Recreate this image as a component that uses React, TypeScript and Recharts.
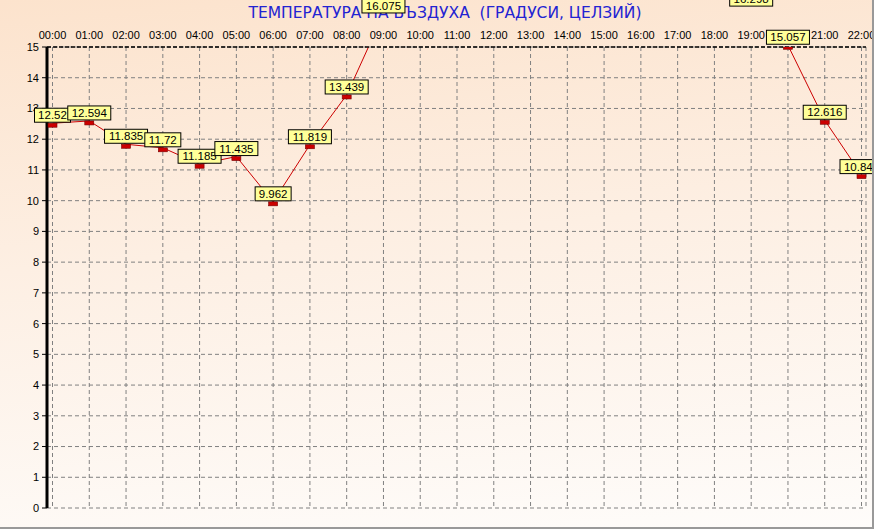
import { CartesianGrid, LabelList, Line, LineChart, XAxis, YAxis } from 'recharts'

const hours = [
  '00:00', '01:00', '02:00', '03:00', '04:00', '05:00', '06:00', '07:00',
  '08:00', '09:00', '10:00', '11:00', '12:00', '13:00', '14:00', '15:00',
  '16:00', '17:00', '18:00', '19:00', '20:00', '21:00', '22:00',
]

// daytime readings are off the top of the scale and not readable
const temps: (number | null)[] = [
  12.52, 12.594, 11.835, 11.72, 11.185, 11.435, 9.962, 11.819, 13.439, 16.075,
  null, null, null, null, null, null, null, null, null,
  16.298, 15.057, 12.616, 10.848,
]

const yTicks = [0, 1, 2, 3, 4, 5, 6, 7, 8, 9, 10, 11, 12, 13, 14, 15]

const title = 'ТЕМПЕРАТУРА НА ВЪЗДУХА  (ГРАДУСИ, ЦЕЛЗИЙ)'

const font = '"Liberation Sans", Arial, sans-serif'

const data = hours.map((h, i) => ({ time: h, temp: temps[i] }))

function Marker(props: any) {
  const { cx, cy, payload } = props
  if (cx == null || cy == null || payload?.temp == null) return null
  return <rect x={cx - 4.5} y={cy} width={9} height={4} fill="#cc0000" stroke="#7a0000" strokeWidth={0.6} />
}

function ValueBox(props: any) {
  const { x, y, value } = props
  if (value == null || x == null || y == null) return null
  const txt = String(value)
  const w = txt.length * 7 + 1
  return (
    <g>
      <rect x={x - w / 2} y={y - 15} width={w} height={14} fill="#ffff99" stroke="#000" strokeWidth={1} />
      <text x={x} y={y - 4} textAnchor="middle" fontSize={11.5} fontFamily={font} fill="#000">
        {txt}
      </text>
    </g>
  )
}

export default function App() {
  return (
    <div
      style={{
        position: 'absolute',
        left: 0,
        top: 0,
        width: 874,
        height: 529,
        boxSizing: 'border-box',
        borderRight: '2px solid #999',
        borderBottom: '2px solid #999',
        background: 'linear-gradient(175deg, #fce3cd 0%, #fdefe3 45%, #fefcfa 100%)',
        overflow: 'hidden',
      }}
    >
      <style>{'body{margin:0}'}</style>
      <div
        style={{
          position: 'absolute',
          top: 5,
          left: 0,
          width: 890,
          textAlign: 'center',
          fontFamily: '"DejaVu Sans", sans-serif',
          fontSize: 15.5,
          lineHeight: '17px',
          color: '#2323d2',
          whiteSpace: 'pre',
        }}
      >
        {title}
      </div>
      <div style={{ position: 'absolute', left: 0, top: 0 }}>
        <LineChart width={874} height={529} data={data} margin={{ top: 0, right: 8, left: 0, bottom: 21 }}>
          <CartesianGrid stroke="#808080" strokeDasharray="4 3" />
          <XAxis
            dataKey="time"
            orientation="top"
            height={47}
            padding={{ left: 5.5, right: 4.5 }}
            interval={0}
            tickLine={false}
            tickSize={0}
            tickMargin={8}
            axisLine={{ stroke: '#000', strokeWidth: 1.5, strokeDasharray: '4 2' }}
            tick={{ fontSize: 11, fontFamily: font, fill: '#000' }}
          />
          <XAxis
            xAxisId="b"
            dataKey="time"
            orientation="bottom"
            height={0}
            tick={false}
            tickLine={false}
            axisLine={{ stroke: '#000', strokeWidth: 1.5, strokeDasharray: '4 2' }}
          />
          <YAxis
            type="number"
            domain={[0, 15]}
            ticks={yTicks}
            allowDataOverflow
            width={47}
            tickSize={5}
            tickMargin={3}
            interval={0}
            axisLine={{ stroke: '#000', strokeWidth: 3 }}
            tickLine={{ stroke: '#000' }}
            tick={{ fontSize: 11, fontFamily: font, fill: '#000' }}
          />
          <YAxis
            yAxisId="r"
            orientation="right"
            type="number"
            domain={[0, 15]}
            width={0}
            tick={false}
            tickLine={false}
            axisLine={{ stroke: '#000', strokeWidth: 2 }}
          />
          <Line
            type="linear"
            dataKey="temp"
            stroke="#cc0000"
            strokeWidth={1}
            dot={<Marker />}
            activeDot={false}
            connectNulls={false}
            isAnimationActive={false}
          >
            <LabelList dataKey="temp" content={<ValueBox />} />
          </Line>
        </LineChart>
      </div>
    </div>
  )
}
